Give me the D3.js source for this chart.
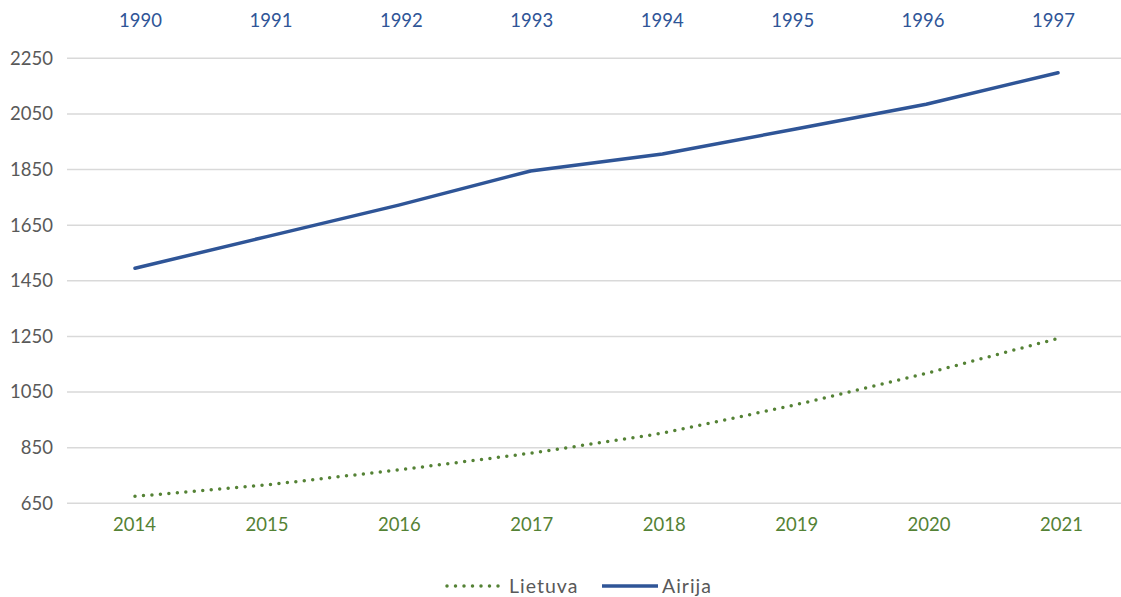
<!DOCTYPE html>
<html><head><meta charset="utf-8">
<script src="https://cdn.jsdelivr.net/npm/d3@7"></script>
<style>body{margin:0;background:#fff}svg{display:block}text{font-family:Lato,"Open Sans",sans-serif}</style>
</head><body><svg id="c" width="1121" height="597"></svg>
<script>
const yearsBottom = ["2014","2015","2016","2017","2018","2019","2020","2021"];
const yearsTop = ["1990","1991","1992","1993","1994","1995","1996","1997"];
const lietuva = [675,716,770,830,902,1003,1117,1243];
const airija = [1495,1609,1722,1845,1906,1995,2085,2198];
const yTicks = [650,850,1050,1250,1450,1650,1850,2050,2250];

(function(){
const svg = d3.select("#c");
const pLeft=67, pRight=1121, pTop=58.3, pBottom=503.3;
const FS = 18.5;
const x = d3.scalePoint().domain(d3.range(8)).range([135,1058]);
const xTop = d3.scalePoint().domain(yearsTop).range([140,1053]);
const xBot = d3.scalePoint().domain(yearsBottom).range([134,1061]);
const y = d3.scaleLinear().domain([650,2250]).range([pBottom,pTop]);

svg.append("g").selectAll("line").data(yTicks).join("line")
  .attr("x1",pLeft).attr("x2",pRight).attr("y1",d=>y(d)).attr("y2",d=>y(d))
  .attr("stroke","#d9d9d9").attr("stroke-width",1.5);

const ya = svg.append("g").attr("transform",`translate(53,0)`).call(d3.axisLeft(y).tickValues(yTicks).tickFormat(d3.format("d")).tickSize(0).tickPadding(0));
ya.select(".domain").remove();
ya.selectAll("text").attr("font-size",FS).attr("fill","#595959").attr("font-family","Lato,sans-serif");

const xb = svg.append("g").attr("transform",`translate(0,${pBottom})`).call(d3.axisBottom(xBot).tickSize(0).tickPadding(15));
xb.select(".domain").remove();
xb.selectAll("text").attr("font-size",FS).attr("fill","#548235").attr("font-family","Lato,sans-serif");

const xt = svg.append("g").attr("transform",`translate(0,${pTop-31})`).call(d3.axisTop(xTop).tickSize(0).tickPadding(0));
xt.select(".domain").remove();
xt.selectAll("text").attr("font-size",FS).attr("fill","#2F5597").attr("font-family","Lato,sans-serif");

const line = d3.line().x((d,i)=>x(i)).y(d=>y(d));
svg.append("path").datum(airija).attr("d",line).attr("fill","none")
  .attr("stroke","#2F5597").attr("stroke-width",3.5).attr("stroke-linecap","round").attr("stroke-linejoin","round");
svg.append("path").datum(lietuva).attr("d",line).attr("fill","none")
  .attr("stroke","#548235").attr("stroke-width",3.5).attr("stroke-linecap","round").attr("stroke-dasharray","0,8.5");

const lg = svg.append("g");
const ly = 586;
lg.append("line").attr("x1",447).attr("x2",500).attr("y1",ly).attr("y2",ly)
  .attr("stroke","#548235").attr("stroke-width",3.5).attr("stroke-linecap","round").attr("stroke-dasharray","0,8.5");
lg.append("text").attr("x",509).attr("y",ly+7).attr("font-size",19.5).attr("letter-spacing",1).attr("fill","#595959").text("Lietuva");
lg.append("line").attr("x1",602).attr("x2",658).attr("y1",ly).attr("y2",ly)
  .attr("stroke","#2F5597").attr("stroke-width",3.5);
lg.append("text").attr("x",662).attr("y",ly+7).attr("font-size",19.5).attr("letter-spacing",1).attr("fill","#595959").text("Airija");
})();
</script></body></html>
